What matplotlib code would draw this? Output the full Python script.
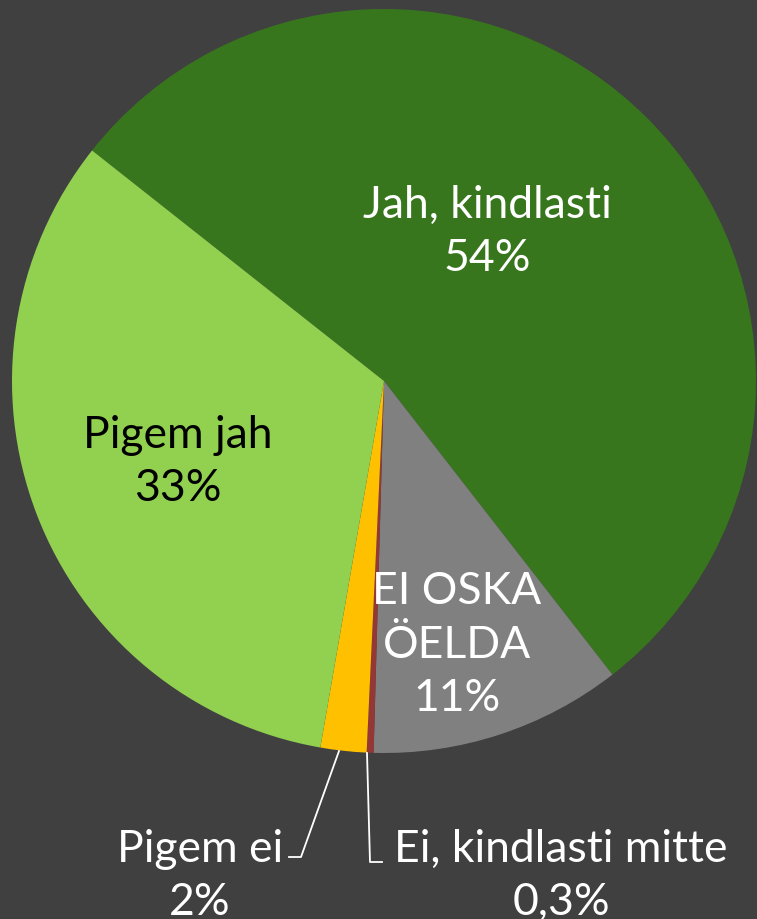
import matplotlib
matplotlib.use('Agg')
import matplotlib.pyplot as plt

labels = ['Jah, kindlasti', 'EI OSKA\nÖELDA', 'Ei, kindlasti mitte', 'Pigem ei', 'Pigem jah']
values = [54, 11, 0.3, 2, 33]
pct_text = ['54%', '11%', '0,3%', '2%', '33%']
colors = ['#38761D', '#808080', '#953735', '#FFC000', '#92D050']
text_colors = ['white', 'white', 'white', 'white', 'black']

bg = '#404040'
plt.rcParams['font.family'] = ['Lato', 'DejaVu Sans']

fig = plt.figure(figsize=(7.57, 9.19), dpi=100, facecolor=bg)
W, H = 757, 919
cx, cy, r = 384, 381, 372
ax = fig.add_axes([(cx - r) / W, (H - cy - r) / H, 2 * r / W, 2 * r / H])
ax.set_facecolor(bg)
ax.axis('off')

wedges, _ = ax.pie(values, colors=colors, startangle=141.7, counterclock=False,
                   radius=1, wedgeprops=dict(linewidth=0))
for w in wedges:
    w.set_clip_on(False)
ax.set_xlim(-1, 1)
ax.set_ylim(-1, 1)


# convert pixel coords of the reference to data coords
def px(x, y):
    return (x - cx) / r, (cy - y) / r


fs = 32
ls = 1.38
# labels inside slices
x, y = px(487, 232)
ax.text(x, y, labels[0] + '\n' + pct_text[0], color=text_colors[0], fontsize=fs,
        ha='center', va='center', linespacing=ls)
x, y = px(178, 462)
ax.text(x, y, labels[4] + '\n' + pct_text[4], color=text_colors[4], fontsize=fs,
        ha='center', va='center', linespacing=ls)
x, y = px(457, 645)
ax.text(x, y, labels[1] + '\n' + pct_text[1], color=text_colors[1], fontsize=fs,
        ha='center', va='center', linespacing=ls)

# outside labels with leader lines
x, y = px(200, 876)
ax.text(x, y, labels[3] + '\n' + pct_text[3], color='white', fontsize=fs,
        ha='center', va='center', linespacing=ls, clip_on=False)
x, y = px(561, 876)
ax.text(x, y, labels[2] + '\n' + pct_text[2], color='white', fontsize=fs,
        ha='center', va='center', linespacing=ls, clip_on=False)

p = [px(339, 751), px(301, 857), px(289, 857)]
ax.plot([q[0] for q in p], [q[1] for q in p], color='white', lw=1.3, clip_on=False)
p = [px(367, 753), px(370, 862), px(382, 862)]
ax.plot([q[0] for q in p], [q[1] for q in p], color='white', lw=1.3, clip_on=False)

fig.savefig('out.png', dpi=100, facecolor=bg)
